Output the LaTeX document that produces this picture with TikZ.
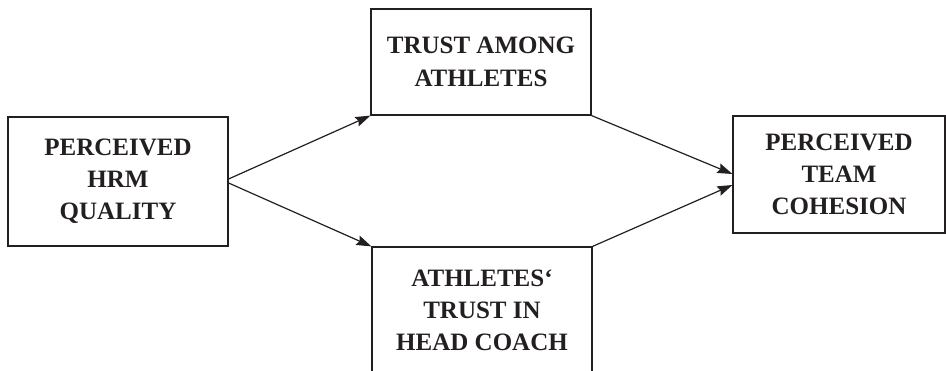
\documentclass[tikz,border=0pt]{standalone}
\usepackage{fontspec}
\setmainfont{Liberation Serif}
\usetikzlibrary{arrows.meta}
\definecolor{ink}{HTML}{231F20}
\begin{document}
\begin{tikzpicture}[x=1pt,y=-1pt,
  box/.style={draw=ink, line width=1.2pt, rectangle, inner sep=0pt, align=center,
    text=ink, font=\fontsize{25}{32}\selectfont\bfseries},
  conn/.style={draw=ink, line width=1.2pt, -{Stealth[length=15pt,width=10pt,inset=2pt]}}]
\useasboundingbox (0,0) rectangle (946,371);
\node[box, minimum width=220pt, minimum height=129pt] (hrm) at (118,181.5) {PERCEIVED\\HRM\\QUALITY};
\node[box, minimum width=220pt, minimum height=106pt] (ta) at (481,62) {TRUST AMONG\\[1pt]ATHLETES};
\node[box, minimum width=220pt, minimum height=126pt] (tc) at (482,310) {ATHLETES‘\\TRUST IN\\HEAD COACH};
\node[box, minimum width=212pt, minimum height=117pt] (coh) at (839,174.5) {PERCEIVED\\TEAM\\COHESION};
\draw[conn] ([yshift=2.5pt]hrm.east) -- (ta.south west);
\draw[conn] ([yshift=-1.5pt]hrm.east) -- (tc.north west);
\draw[conn] (ta.south east) -- ([yshift=0.5pt]coh.west);
\draw[conn] (tc.north east) -- ([yshift=-10.5pt]coh.west);
\end{tikzpicture}
\end{document}
